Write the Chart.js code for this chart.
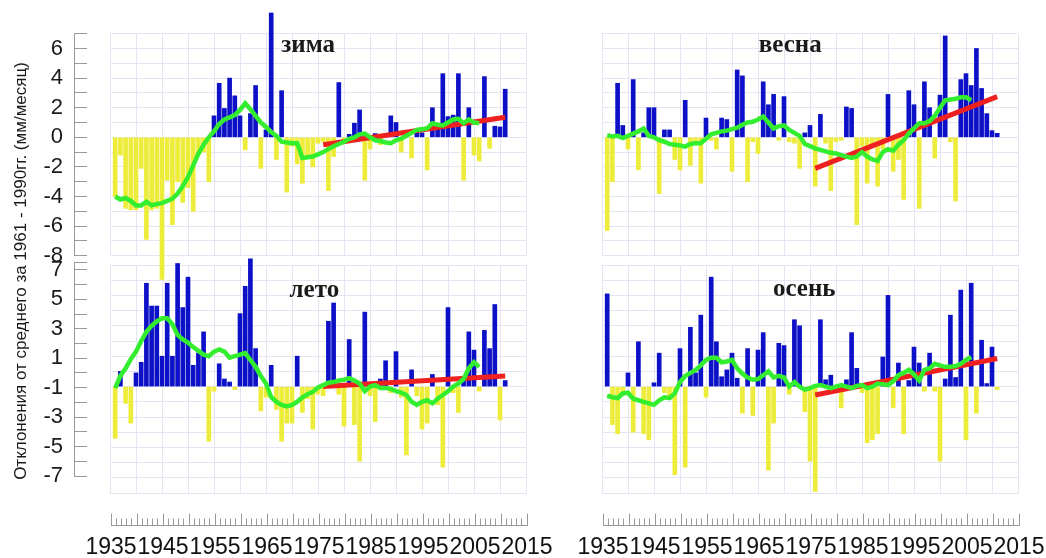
<!DOCTYPE html>
<html>
<head>
<meta charset="utf-8">
<script src="https://cdn.jsdelivr.net/npm/chart.js@4.4.1/dist/chart.umd.min.js"></script>
<style>
  html, body { margin: 0; padding: 0; background: #fff; }
  #wrap { position: relative; width: 1046px; height: 558px; overflow: hidden; background: #fff; }
  #wrap canvas { position: absolute; }
</style>
</head>
<body>
<div id="wrap">
  <canvas id="yTitle"></canvas>
  <canvas id="axTop"></canvas>
  <canvas id="axBot"></canvas>
  <canvas id="leto"></canvas>
  <canvas id="osen"></canvas>
  <canvas id="zima"></canvas>
  <canvas id="vesna"></canvas>
  <canvas id="rulerL"></canvas>
  <canvas id="rulerR"></canvas>
</div>
<script>
// годы наблюдений
const years = [1936, 1937, 1938, 1939, 1940, 1941, 1942, 1943, 1944, 1945,
  1946, 1947, 1948, 1949, 1950, 1951, 1952, 1953, 1954, 1955,
  1956, 1957, 1958, 1959, 1960, 1961, 1962, 1963, 1964, 1965,
  1966, 1967, 1968, 1969, 1970, 1971, 1972, 1973, 1974, 1975,
  1976, 1977, 1978, 1979, 1980, 1981, 1982, 1983, 1984, 1985,
  1986, 1987, 1988, 1989, 1990, 1991, 1992, 1993, 1994, 1995,
  1996, 1997, 1998, 1999, 2000, 2001, 2002, 2003, 2004, 2005,
  2006, 2007, 2008, 2009, 2010, 2011];

// аномалии осадков по сезонам (мм/месяц)
const zima = [-4.0, -1.2, -4.8, -4.9, -4.9, -2.1, -6.9, -4.9, -4.8, -9.6,
  -2.9, -5.9, -3.0, -4.4, -3.4, -5.0, -1.2, -1.0, -3.0, 1.45,
  3.65, 1.95, 4.0, 2.8, 1.45, -0.85, 1.6, 3.5, -2.1, 0.5,
  8.4, -1.5, 3.15, -3.7, -0.6, -1.8, -3.1, -1.3, -2.0, -0.4,
  -0.3, -3.6, -1.3, 3.7, -0.2, 0.2, 0.95, 1.85, -2.9, -0.8,
  0.25, -0.5, 0.1, 1.45, 1.0, -1.0, 0.4, -1.4, 0.4, 0.3,
  -2.2, 2.0, 0.8, 4.3, 1.4, 1.5, 4.3, -2.9, 2.0, -1.2,
  -1.6, 4.1, -0.75, 0.75, 0.7, 3.25];

const vesna = [-6.3, -3.0, 3.65, 0.8, -0.8, 3.9, -2.2, 0.3, 2.0, 2.0,
  -3.8, 0.5, 0.5, -1.5, -2.2, 2.5, -1.9, -0.3, -3.1, 1.3,
  -0.2, -0.8, 1.3, 1.2, -2.3, 4.55, 4.15, -3.0, -0.3, -1.1,
  3.75, 2.2, 2.9, -0.2, 2.75, -0.3, -0.4, -2.1, 0.3, 0.8,
  -3.3, 1.55, -0.4, -3.6, -0.3, -0.2, 2.05, 1.95, -5.9, -0.6,
  -3.1, -0.5, -3.3, -0.8, 2.9, -2.3, -1.5, -4.2, 3.15, 2.2,
  -4.8, 3.75, 2.0, -1.4, 2.85, 6.85, -0.3, -4.3, 3.9, 4.3,
  3.5, 6.0, 3.3, 1.6, 0.45, 0.27];

const leto = [-3.4, 1.0, -1.1, -2.4, 0.9, 1.6, 6.8, 5.3, 5.3, 2.0,
  6.8, 2.0, 8.1, 5.2, 7.2, 1.4, 2.2, 3.6, -3.6, -0.3,
  1.5, 0.5, 0.3, -0.2, 4.8, 6.6, 8.4, 2.5, -1.6, -0.7,
  1.4, -1.5, -3.6, -2.4, -2.4, 2.0, -1.7, -0.8, -2.8, -0.5,
  -0.6, 4.3, 5.5, -0.5, -2.6, 3.1, -2.5, -4.9, 4.9, -0.6,
  -2.3, 0.5, 1.7, -0.4, 2.3, -0.7, -4.5, 1.1, -0.6, -2.8,
  -2.4, 0.8, -1.2, -5.3, 5.2, -0.4, -1.7, 0.6, 3.6, 2.4,
  -0.3, 3.7, 2.5, 5.4, -2.2, 0.4];

const osen = [6.1, -2.5, -3.1, -0.5, 0.9, -3.0, 2.95, -3.1, -3.5, 0.25,
  2.2, -0.4, -0.8, -5.8, 2.5, -5.3, 3.9, 0.9, 4.7, -0.7,
  7.2, 2.95, 0.65, 1.1, 2.2, 0.55, -1.75, 2.5, -1.9, 2.4,
  3.55, -5.5, -2.4, 2.85, 2.7, -0.5, 4.4, 4.0, -1.65, -4.9,
  -6.9, 4.4, 0.45, 0.75, -0.3, -1.4, 0.45, 3.55, 1.2, -0.4,
  -3.7, -3.5, -3.1, 1.95, 6.0, -1.4, 1.55, -3.1, 0.4, 2.6,
  1.55, -0.3, 2.2, -0.3, -4.9, 0.5, 4.7, 0.6, 6.35, -3.5,
  6.8, -1.75, 3.05, 0.2, 2.6, -0.2];

// сглаженные ряды (1936-2006)
const smoothYears = years.slice(0, 71);
const zimaSmooth = [-4.0, -4.2, -4.1, -4.3, -4.6, -4.6, -4.35, -4.6, -4.5, -4.45,
  -4.3, -4.15, -3.8, -3.3, -2.7, -1.9, -1.1, -0.5, 0.0, 0.4,
  0.9, 1.2, 1.35, 1.5, 1.85, 2.3, 1.9, 1.45, 1.0, 0.7,
  0.35, 0.1, -0.3, -0.35, -0.4, -0.4, -1.4, -1.35, -1.3, -1.15,
  -1.0, -0.8, -0.6, -0.45, -0.3, -0.1, 0.0, 0.2, 0.25, 0.0,
  -0.2, -0.25, -0.35, -0.4, -0.2, -0.1, 0.1, 0.3, 0.5, 0.55,
  0.6, 0.95, 0.85, 0.8, 1.0, 1.2, 1.25, 0.95, 1.2, 1.0, 0.95];
const vesnaSmooth = [0.15, 0.05, 0.1, -0.05, 0.1, 0.25, 0.4, 0.6, 0.1, 0.0,
  -0.2, -0.3, -0.45, -0.5, -0.55, -0.63, -0.45, -0.4, -0.4, -0.1,
  0.2, 0.3, 0.4, 0.45, 0.55, 0.65, 0.85, 1.0, 1.05, 1.2,
  1.4, 1.0, 0.6, 0.75, 0.8, 0.5, 0.3, 0.1, -0.45, -0.6,
  -0.75, -0.85, -0.95, -1.05, -1.1, -1.2, -1.3, -1.4, -1.3, -1.0,
  -1.3, -1.5, -1.6, -1.0, -0.8, -0.9, -0.5, -0.2, 0.25, 0.6,
  0.95, 0.95, 1.1, 1.45, 2.0, 2.5, 2.55, 2.6, 2.7, 2.7, 2.5];
const letoSmooth = [-0.1, 0.7, 1.2, 1.8, 2.3, 3.0, 3.6, 4.0, 4.3, 4.5,
  4.5, 4.1, 3.4, 3.1, 2.9, 2.6, 2.35, 2.1, 2.0, 2.3,
  2.45, 2.3, 1.9, 2.0, 2.1, 2.2, 1.75, 1.3, 0.7, 0.2,
  -0.7, -1.0, -1.2, -1.3, -1.2, -1.0, -0.7, -0.5, -0.35, -0.05,
  0.1, 0.25, 0.3, 0.4, 0.45, 0.55, 0.4, 0.2, -0.3, 0.0,
  0.1, -0.1, -0.1, -0.15, -0.3, -0.4, -0.55, -1.0, -1.2, -1.0,
  -0.9, -1.1, -0.8, -0.55, -0.3, 0.0, 0.2, 0.5, 1.2, 1.6, 1.3];
const osenSmooth = [-0.6, -0.7, -0.75, -0.45, -0.4, -0.8, -0.9, -1.0, -1.1, -1.2,
  -0.9, -0.7, -0.75, -0.45, 0.3, 0.7, 0.9, 1.1, 1.4, 1.75,
  1.9, 1.9, 1.6, 1.65, 1.75, 1.2, 0.85, 0.6, 0.45, 0.5,
  0.75, 1.0, 0.6, 0.7, 0.6, 0.0, 0.3, 0.0, -0.2, -0.1,
  0.05, 0.1, 0.0, -0.1, 0.0, 0.1, 0.0, -0.1, 0.05, 0.1,
  -0.1, 0.0, 0.2, 0.15, 0.1, 0.35, 0.75, 0.9, 1.1, 0.8,
  0.4, 1.1, 1.2, 1.5, 1.4, 1.3, 1.3, 1.35, 1.5, 1.75, 1.95];

// линейные тренды 1976-2011
const trendYears = [1976, 2011];
const zimaTrend = [-0.5, 1.35];
const vesnaTrend = [-2.1, 2.75];
const letoTrend = [0.0, 0.7];
const osenTrend = [-0.55, 1.85];

// подписи осей
const topAxisTicks = [-8, -7, -6, -5, -4, -3, -2, -1, 0, 1, 2, 3, 4, 5, 6, 7];
const topAxisLabels = [-8, -6, -4, -2, 0, 2, 4, 6];
const botAxisTicks = [-7, -6, -5, -4, -3, -2, -1, 0, 1, 2, 3, 4, 5, 6, 7, 7.5];
const botAxisLabels = [-7, -5, -3, -1, 1, 3, 5, 7];
const xTickLabels = [1935, 1945, 1955, 1965, 1975, 1985, 1995, 2005, 2015];
const yTitle = 'Отклонения от среднего за 1961 - 1990гг. (мм/месяц)';

const FONT = '"Liberation Sans", Arial, sans-serif';
const BLUE = '#0c10c6';
const YELLOW = '#eeec3a';
const GREEN = '#33ee2e';
const RED = '#ee2020';
const GRID = '#e4e4f2';
const AXIS = '#9a9a9a';

function place(id, left, top, w, h) {
    const c = document.getElementById(id);
    c.width = w;
    c.height = h;
    c.style.left = left + 'px';
    c.style.top = top + 'px';
    return c;
}

// название сезона внутри панели
const seasonLabel = {
    id: 'seasonLabel',
    afterDraw(chart, args, opts) {
        const ctx = chart.ctx;
        const x = chart.scales.x.getPixelForValue(opts.atX);
        const y = chart.scales.y.getPixelForValue(opts.atY);
        ctx.save();
        ctx.font = 'bold 25px "Liberation Serif", "Times New Roman", serif';
        ctx.fillStyle = '#1a1a1a';
        ctx.textAlign = 'center';
        ctx.textBaseline = 'alphabetic';
        ctx.fillText(opts.text, x, y);
        ctx.restore();
    }
};

const noPlugins = { legend: { display: false }, tooltip: { enabled: false } };

function panel(id, left, top, h, pad, yMin, yMax, vals, smooth, trend, name, at) {
    new Chart(place(id, left, top, 460, h), {
        type: 'bar',
        data: {
            datasets: [
                {
                    type: 'line',
                    data: smoothYears.map((yr, i) => ({ x: yr, y: smooth[i] })),
                    borderColor: GREEN,
                    borderWidth: 4.5,
                    pointRadius: 0,
                    order: 1
                },
                {
                    type: 'line',
                    data: trendYears.map((yr, i) => ({ x: yr, y: trend[i] })),
                    borderColor: RED,
                    borderWidth: 5,
                    pointRadius: 0,
                    order: 2
                },
                {
                    type: 'bar',
                    data: years.map((yr, i) => ({ x: yr, y: vals[i] })),
                    backgroundColor: c => (c.raw && c.raw.y < 0 ? YELLOW : BLUE),
                    barThickness: 4,
                    order: 3,
                    clip: false
                }
            ]
        },
        options: {
            responsive: false,
            animation: false,
            events: [],
            layout: { padding: pad },
            plugins: Object.assign({ seasonLabel: { text: name, atX: at[0], atY: at[1] } }, noPlugins),
            scales: {
                x: {
                    type: 'linear', min: 1935, max: 2015, offset: false,
                    afterFit: s => { s.height = 0; },
                    grid: { color: GRID, drawTicks: false, offset: false },
                    border: { color: GRID },
                    ticks: { display: false, stepSize: 5, autoSkip: false }
                },
                y: {
                    type: 'linear', min: yMin, max: yMax,
                    afterFit: s => { s.width = 0; },
                    grid: { color: GRID, drawTicks: false },
                    border: { color: GRID },
                    ticks: { display: false, stepSize: 1, autoSkip: false }
                }
            }
        },
        plugins: [seasonLabel]
    });
}

function yAxis(id, top, h, padTop, padBottom, lo, hi, tickVals, labelVals) {
    new Chart(place(id, 0, top, 87, h), {
        type: 'line',
        data: { datasets: [] },
        options: {
            responsive: false,
            animation: false,
            events: [],
            layout: { padding: { left: 0, right: 0, top: padTop, bottom: padBottom } },
            plugins: noPlugins,
            scales: {
                x: { type: 'linear', display: false, min: 0, max: 1 },
                y: {
                    type: 'linear', min: lo, max: hi,
                    afterBuildTicks: s => { s.ticks = tickVals.map(v => ({ value: v })); },
                    afterFit: s => { s.width = 74; },
                    grid: { color: AXIS, drawTicks: false },
                    border: { color: AXIS },
                    ticks: {
                        autoSkip: false, padding: 11, color: '#1a1a1a',
                        font: { family: FONT, size: 22 },
                        callback: v => (labelVals.includes(v) ? String(v) : '')
                    }
                }
            }
        }
    });
}

function ruler(id, left, x0) {
    const w = 580;
    new Chart(place(id, left, 500, w, 70), {
        type: 'line',
        data: { datasets: [] },
        options: {
            responsive: false,
            animation: false,
            events: [],
            layout: { padding: { left: x0 - left, right: w - (x0 - left) - 416, top: 13.5, bottom: 4.3 } },
            plugins: noPlugins,
            scales: {
                x: {
                    type: 'linear', position: 'bottom', min: 1935, max: 2015,
                    afterFit: s => { s.height = 40; },
                    grid: { color: AXIS, drawTicks: false },
                    border: { color: AXIS },
                    ticks: {
                        stepSize: 1, maxTicksLimit: 200, autoSkip: false, maxRotation: 0, minRotation: 0,
                        padding: 8, color: '#111', font: { family: FONT, size: 23 },
                        callback: v => (xTickLabels.includes(v) ? String(v) : '')
                    }
                },
                x2: {
                    type: 'linear', position: 'top', min: 1935, max: 2015,
                    afterFit: s => { s.height = 5; },
                    grid: { color: AXIS, tickLength: 5 },
                    border: { display: false },
                    ticks: { display: false, stepSize: 5, autoSkip: false }
                },
                y: { display: false, min: 0, max: 1 }
            }
        }
    });
}

// заголовок оси Y
new Chart(place('yTitle', 0, 40, 40, 462), {
    type: 'line',
    data: { datasets: [] },
    options: {
        responsive: false,
        animation: false,
        events: [],
        layout: { padding: 0 },
        plugins: {
            legend: { display: false },
            tooltip: { enabled: false },
            title: {
                display: true, position: 'left', text: yTitle, color: '#1a1a1a',
                font: { family: FONT, size: 17, weight: 'normal' },
                padding: { top: 11, bottom: 0 }
            }
        },
        scales: { x: { display: false }, y: { display: false } }
    }
});

yAxis('axTop', 0, 285, 33.7, 29.3, -8, 7, topAxisTicks, topAxisLabels);
yAxis('axBot', 235, 269, 27.6, 28, -7, 7.5, botAxisTicks, botAxisLabels);

const padTop = { left: 20, right: 24, top: 33.7, bottom: 39.3 };
const padBot = { left: 20, right: 24, top: 25, bottom: 12 };
panel('zima', 90, 0, 295, padTop, -8, 7, zima, zimaSmooth, zimaTrend, 'зима', [1973.1, 5.78]);
panel('vesna', 582, 0, 295, padTop, -8, 7, vesna, vesnaSmooth, vesnaTrend, 'весна', [1971.2, 5.78]);
panel('leto', 90, 240, 265, padBot, -7, 8, leto, letoSmooth, letoTrend, 'лето', [1974.3, 5.91]);
panel('osen', 582, 240, 265, padBot, -7, 8, osen, osenSmooth, osenTrend, 'осень', [1973.9, 5.95]);

ruler('rulerL', 0, 111);
ruler('rulerR', 480, 603);
</script>
</body>
</html>
